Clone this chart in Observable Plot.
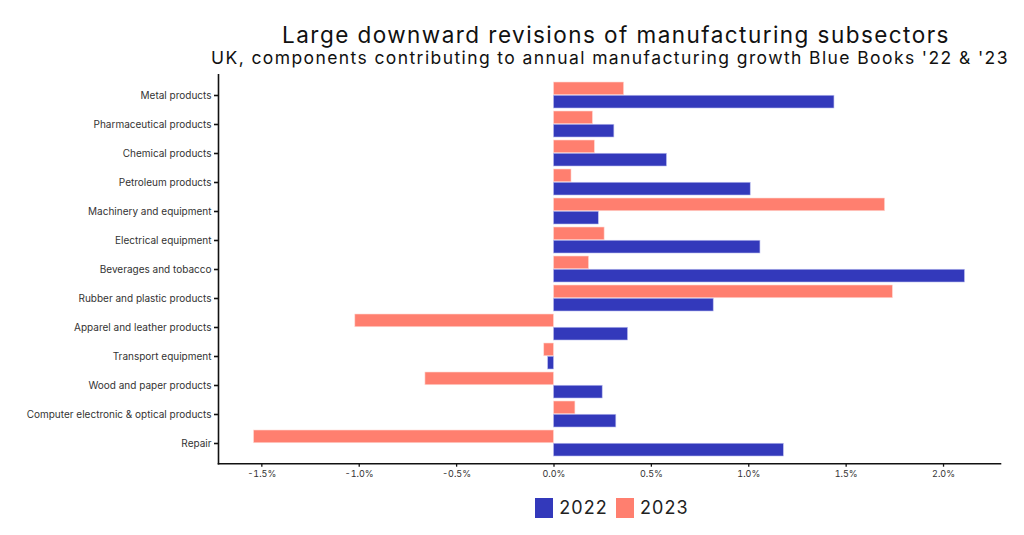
<!DOCTYPE html>
<html><head><meta charset="utf-8">
<script src="https://cdn.jsdelivr.net/npm/d3@7"></script>
<script src="https://cdn.jsdelivr.net/npm/@observablehq/plot@0.6"></script>
<style>
body{margin:0;background:#fff;font-family:Inter,"Noto Sans",sans-serif;}
#wrap{position:relative;width:1024px;height:535px;overflow:hidden;background:#fff;}
#title{position:absolute;z-index:2;left:107px;width:1018px;top:21px;text-align:center;font-size:22.5px;color:#111;letter-spacing:1.45px;white-space:nowrap;}
#subtitle{position:absolute;z-index:2;left:100px;width:1020px;top:47px;text-align:center;font-size:17.5px;color:#111;letter-spacing:1.4px;white-space:nowrap;}
#chart{position:absolute;z-index:1;left:0;top:66px;}
#legend{position:absolute;left:0;width:1024px;top:497px;display:flex;justify-content:center;padding-left:200px;box-sizing:border-box;align-items:center;font-size:18px;color:#222;letter-spacing:1.1px;}
#legend .sw{width:18px;height:20px;display:inline-block;margin-right:6px;}
#legend .it{display:flex;align-items:center;margin:0 4px;}
</style>
</head><body>
<div id="wrap">
<div id="chart"></div>
<div id="title">Large downward revisions of manufacturing subsectors</div>
<div id="subtitle">UK, components contributing to annual manufacturing growth Blue Books '22 &amp; '23</div>
<div id="legend"></div>
</div>
<script>
const categories = ["Metal products","Pharmaceutical products","Chemical products","Petroleum products","Machinery and equipment","Electrical equipment","Beverages and tobacco","Rubber and plastic products","Apparel and leather products","Transport equipment","Wood and paper products","Computer electronic & optical products","Repair"];
const years = ["2022","2023"];
const v2022 = [1.44, 0.31, 0.58, 1.01, 0.23, 1.06, 2.11, 0.82, 0.38, -0.03, 0.25, 0.32, 1.18];
const v2023 = [0.36, 0.20, 0.21, 0.09, 1.70, 0.26, 0.18, 1.74, -1.02, -0.05, -0.66, 0.11, -1.54];
const xTicks = [-1.5, -1.0, -0.5, 0.0, 0.5, 1.0, 1.5, 2.0];
const colors = ["#3339BB", "#FF7F6F"];

const d22 = categories.map((c, i) => ({category: c, year: "2022", value: v2022[i]}));
const d23 = categories.map((c, i) => ({category: c, year: "2023", value: v2023[i]}));

const W = 1024, H = 420, mT = 8.4, mB = 22.8, mL = 218, mR = 24;
const pi = 0.1, po = 0.15;
const step = (H - mT - mB) / (categories.length - pi + 2 * po);
const half = step * (1 - pi) / 2;

const all = v2022.concat(v2023);
const lo = d3.min(all), hi = d3.max(all), ex = (hi - lo) * 0.05;

const fmt = d => (d < 0 ? "-" : "") + Math.abs(d).toFixed(1) + "%";

const plot = Plot.plot({
  width: W, height: H,
  marginTop: mT, marginBottom: mB, marginLeft: mL, marginRight: mR,
  style: {fontFamily: "Inter, 'Noto Sans', sans-serif", color: "#222", background: "transparent"},
  x: {domain: [lo - ex, hi + ex], label: null},
  y: {domain: categories, paddingInner: pi, paddingOuter: po, label: null},
  marks: [
    Plot.barX(d23, {y: "category", x: "value", fill: colors[1], insetBottom: half, stroke: "#ffd9d3", strokeWidth: 0.6}),
    Plot.barX(d22, {y: "category", x: "value", fill: colors[0], insetTop: half, stroke: "#b9bcee", strokeWidth: 0.6}),
    Plot.axisX({ticks: xTicks, tickFormat: fmt, tickSize: 3.5, tickPadding: 3, fontSize: 9, stroke: "#111", strokeWidth: 1.3, fill: "#333", label: null}),
    Plot.axisY({tickSize: 4, tickPadding: 3, fontSize: 10, stroke: "#111", strokeWidth: 1.6, fill: "#333", label: null}),
    Plot.frame({anchor: "left", stroke: "#111", strokeWidth: 1.6}),
    Plot.frame({anchor: "bottom", stroke: "#111", strokeWidth: 1.6})
  ]
});
document.getElementById("chart").appendChild(plot);

const leg = document.getElementById("legend");
years.forEach((y, i) => {
  const it = document.createElement("span");
  it.className = "it";
  const sw = document.createElement("span");
  sw.className = "sw";
  sw.style.background = colors[i];
  it.appendChild(sw);
  it.appendChild(document.createTextNode(y));
  leg.appendChild(it);
});
</script>
</body></html>
